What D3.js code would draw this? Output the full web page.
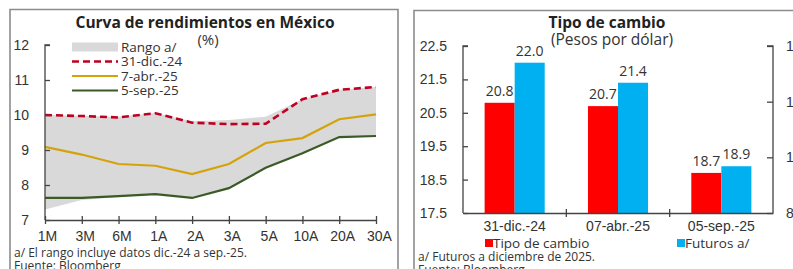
<!DOCTYPE html>
<html><head><meta charset="utf-8">
<script src="https://cdn.jsdelivr.net/npm/d3@7"></script>
<style>
body{margin:0;background:#fff;}
svg{display:block;font-family:"Open Sans",sans-serif;}
</style></head><body>
<svg id="c" width="793" height="269"></svg>
<script>
// ---- Left chart data ----
const tenors = ["1M","3M","6M","1A","2A","3A","5A","10A","20A","30A"];
const dic24 = [10.0, 9.97, 9.93, 10.05, 9.78, 9.74, 9.75, 10.45, 10.72, 10.8];
const abr25 = [9.09, 8.87, 8.6, 8.55, 8.31, 8.6, 9.2, 9.34, 9.88, 10.02];
const sep25 = [7.63, 7.63, 7.68, 7.74, 7.63, 7.91, 8.49, 8.91, 9.37, 9.40];
const rangoHigh = [10.0, 9.98, 9.95, 10.06, 9.82, 9.86, 9.95, 10.45, 10.72, 10.8];
const rangoLow = [7.3, 7.57, 7.66, 7.73, 7.62, 7.9, 8.48, 8.9, 9.36, 9.39];
const leftYTicks = [7, 8, 9, 10, 11, 12];
// ---- Right chart data ----
const fechas = ["31-dic.-24", "07-abr.-25", "05-sep.-25"];
const tipoCambio = [20.8, 20.7, 18.7];
const futuros = [22.0, 21.4, 18.9];
const rightYTicks = [17.5, 18.5, 19.5, 20.5, 21.5, 22.5];
const rightY2Ticks = [8, 10, 12, 14];

const svg = d3.select("#c");
const txt = "#333333";
const border = "#8c8c8c";

// Panel borders
svg.append("path").attr("d","M10,270 V9.5 H398 V270").attr("fill","none").attr("stroke",border).attr("stroke-width",1.6);
svg.append("path").attr("d","M414,270 V10.5 H800").attr("fill","none").attr("stroke",border).attr("stroke-width",1.6);

// ================= LEFT =================
const x = d3.scalePoint().domain(tenors).range([45, 376]).padding(0);
const y = d3.scaleLinear().domain([7, 12]).range([220, 45]);
const L = svg.append("g");

L.append("path")
  .datum(tenors.map((t,i)=>({t, lo: rangoLow[i], hi: rangoHigh[i]})))
  .attr("fill","#d9d9d9")
  .attr("d", d3.area().x(d=>x(d.t)).y0(d=>y(d.lo)).y1(d=>y(d.hi)));

const line = d3.line().x((d,i)=>x(tenors[i])).y(d=>y(d));
L.append("path").datum(sep25).attr("fill","none").attr("stroke","#3a5a26").attr("stroke-width",2.2).attr("d",line);
L.append("path").datum(abr25).attr("fill","none").attr("stroke","#d4a30c").attr("stroke-width",2.2).attr("d",line);
L.append("path").datum(dic24).attr("fill","none").attr("stroke","#c00020").attr("stroke-width",2.6).attr("stroke-dasharray","7,4").attr("d",line);

// axes
const yAx = L.append("g").attr("transform","translate(45,0)")
  .call(d3.axisRight(y).tickValues(leftYTicks).tickSize(5).tickFormat(d3.format("d")));
yAx.select(".domain").attr("d","M5,45H0V220").attr("stroke","#444").attr("stroke-width",1.3);
yAx.selectAll(".tick line").attr("stroke","#444").attr("stroke-width",1.3);
yAx.selectAll(".tick text").attr("x",-16).attr("text-anchor","end").attr("fill",txt).style("font-size","14px");

const xAx = L.append("g").attr("transform","translate(0,220)")
  .call(d3.axisBottom(x).tickSize(4).tickSizeOuter(0));
xAx.select(".domain").attr("stroke","#444").attr("stroke-width",1.3);
xAx.selectAll(".tick line").attr("y1",-4).attr("y2",4).attr("stroke","#444").attr("stroke-width",1.3);
xAx.selectAll(".tick text").attr("y",11).attr("dx","3").attr("fill",txt).style("font-size","14px");
xAx.select(".tick text").attr("dx","2");

// title
L.append("text").attr("x",205).attr("y",28).attr("text-anchor","middle").attr("font-weight","bold").attr("fill","#222").style("font-size","15.5px").text("Curva de rendimientos en México");
L.append("text").attr("x",208).attr("y",45).attr("text-anchor","middle").attr("fill",txt).style("font-size","15px").text("(%)");

// legend
const lg = L.append("g");
const legItems = [
  {name:"Rango a/", type:"rect"},
  {name:"31-dic.-24", type:"dash", color:"#c00020"},
  {name:"7-abr.-25", type:"line", color:"#d4a30c"},
  {name:"5-sep.-25", type:"line", color:"#3a5a26"}
];
legItems.forEach((d,i)=>{
  const cy = 47 + i*14.5;
  if(d.type==="rect") lg.append("rect").attr("x",72).attr("y",cy-4.5).attr("width",46).attr("height",9).attr("fill","#d9d9d9");
  else lg.append("line").attr("x1",72).attr("x2",118).attr("y1",cy).attr("y2",cy).attr("stroke",d.color)
        .attr("stroke-width",d.type==="dash"?2.6:2.2).attr("stroke-dasharray",d.type==="dash"?"7,4":null);
  lg.append("text").attr("x",121).attr("y",cy+4.8).attr("fill",txt).style("font-size","13.5px").text(d.name);
});

L.append("text").attr("x",14).attr("y",257).attr("fill",txt).style("font-size","12px").text("a/ El rango incluye datos dic.-24 a sep.-25.");
L.append("text").attr("x",14).attr("y",270).attr("fill",txt).style("font-size","12px").text("Fuente: Bloomberg");

// ================= RIGHT =================
const R = svg.append("g");
const x0 = d3.scaleBand().domain(fechas).range([463, 773]).padding(0);
const x1 = d3.scaleBand().domain(["tc","fut"]).range([0, x0.bandwidth()]).paddingInner(0).paddingOuter(0.72);
const yr = d3.scaleLinear().domain([17.5, 22.5]).range([213, 46]);
const yr2 = d3.scaleLinear().domain([8, 14]).range([213, 46]);
const colors = {tc:"#ff0000", fut:"#00b0f0"};

const rows = fechas.map((f,i)=>({f, vals:[{k:"tc", v:tipoCambio[i]},{k:"fut", v:futuros[i]}]}));
const gB = R.selectAll(".grp").data(rows).join("g").attr("transform",d=>`translate(${x0(d.f)},0)`);
gB.selectAll("rect").data(d=>d.vals).join("rect")
  .attr("x",d=>x1(d.k)).attr("width",x1.bandwidth())
  .attr("y",d=>yr(d.v)).attr("height",d=>yr(17.5)-yr(d.v)).attr("fill",d=>colors[d.k]);
gB.selectAll("text").data(d=>d.vals).join("text")
  .attr("x",d=>x1(d.k)+x1.bandwidth()/2).attr("y",d=>yr(d.v)-7)
  .attr("text-anchor","middle").attr("fill",txt).style("font-size","14px").text(d=>d.v.toFixed(1));

const ryAx = R.append("g").attr("transform","translate(463,0)")
  .call(d3.axisRight(yr).tickValues(rightYTicks).tickSize(5).tickFormat(d3.format(".1f")));
ryAx.select(".domain").attr("d","M5,46H0V213").attr("stroke","#444").attr("stroke-width",1.3);
ryAx.selectAll(".tick line").attr("stroke","#444").attr("stroke-width",1.3);
ryAx.selectAll(".tick text").attr("x",-16).attr("text-anchor","end").attr("fill",txt).style("font-size","14px");

const ry2Ax = R.append("g").attr("transform","translate(773,0)")
  .call(d3.axisLeft(yr2).tickValues(rightY2Ticks).tickSize(6).tickFormat(d3.format("d")));
ry2Ax.select(".domain").attr("d","M-6,46H0V213").attr("stroke","#444").attr("stroke-width",1.3);
ry2Ax.selectAll(".tick line").attr("stroke","#444").attr("stroke-width",1.3);
ry2Ax.selectAll(".tick text").attr("x",13).attr("text-anchor","start").attr("fill",txt).style("font-size","14px");

const rxAx = R.append("g").attr("transform","translate(0,213)")
  .call(d3.axisBottom(x0).tickSize(0).tickSizeOuter(0));
rxAx.select(".domain").attr("stroke","#444").attr("stroke-width",1.3);
rxAx.selectAll(".tick text").attr("y",8).attr("fill",txt).style("font-size","14px");
R.selectAll(".sep").data(fechas.slice(1)).join("line")
  .attr("x1",d=>x0(d)).attr("x2",d=>x0(d)).attr("y1",209).attr("y2",217).attr("stroke","#444").attr("stroke-width",1.3);

R.append("text").attr("x",607).attr("y",28).attr("text-anchor","middle").attr("font-weight","bold").attr("fill","#222").style("font-size","15.5px").text("Tipo de cambio");
R.append("text").attr("x",612).attr("y",45).attr("text-anchor","middle").attr("fill",txt).style("font-size","15.5px").text("(Pesos por dólar)");

const rl = [{n:"Tipo de cambio", c:colors.tc, x:485},{n:"Futuros a/", c:colors.fut, x:677}];
rl.forEach(d=>{
  R.append("rect").attr("x",d.x).attr("y",239).attr("width",8).attr("height",8).attr("fill",d.c);
  R.append("text").attr("x",d.x+8).attr("y",248).attr("fill",txt).style("font-size","13.5px").text(d.n);
});
R.append("text").attr("x",418).attr("y",261).attr("fill",txt).style("font-size","12px").text("a/ Futuros a diciembre de 2025.");
R.append("text").attr("x",418).attr("y",274).attr("fill",txt).style("font-size","12px").text("Fuente: Bloomberg");
</script>
</body></html>
